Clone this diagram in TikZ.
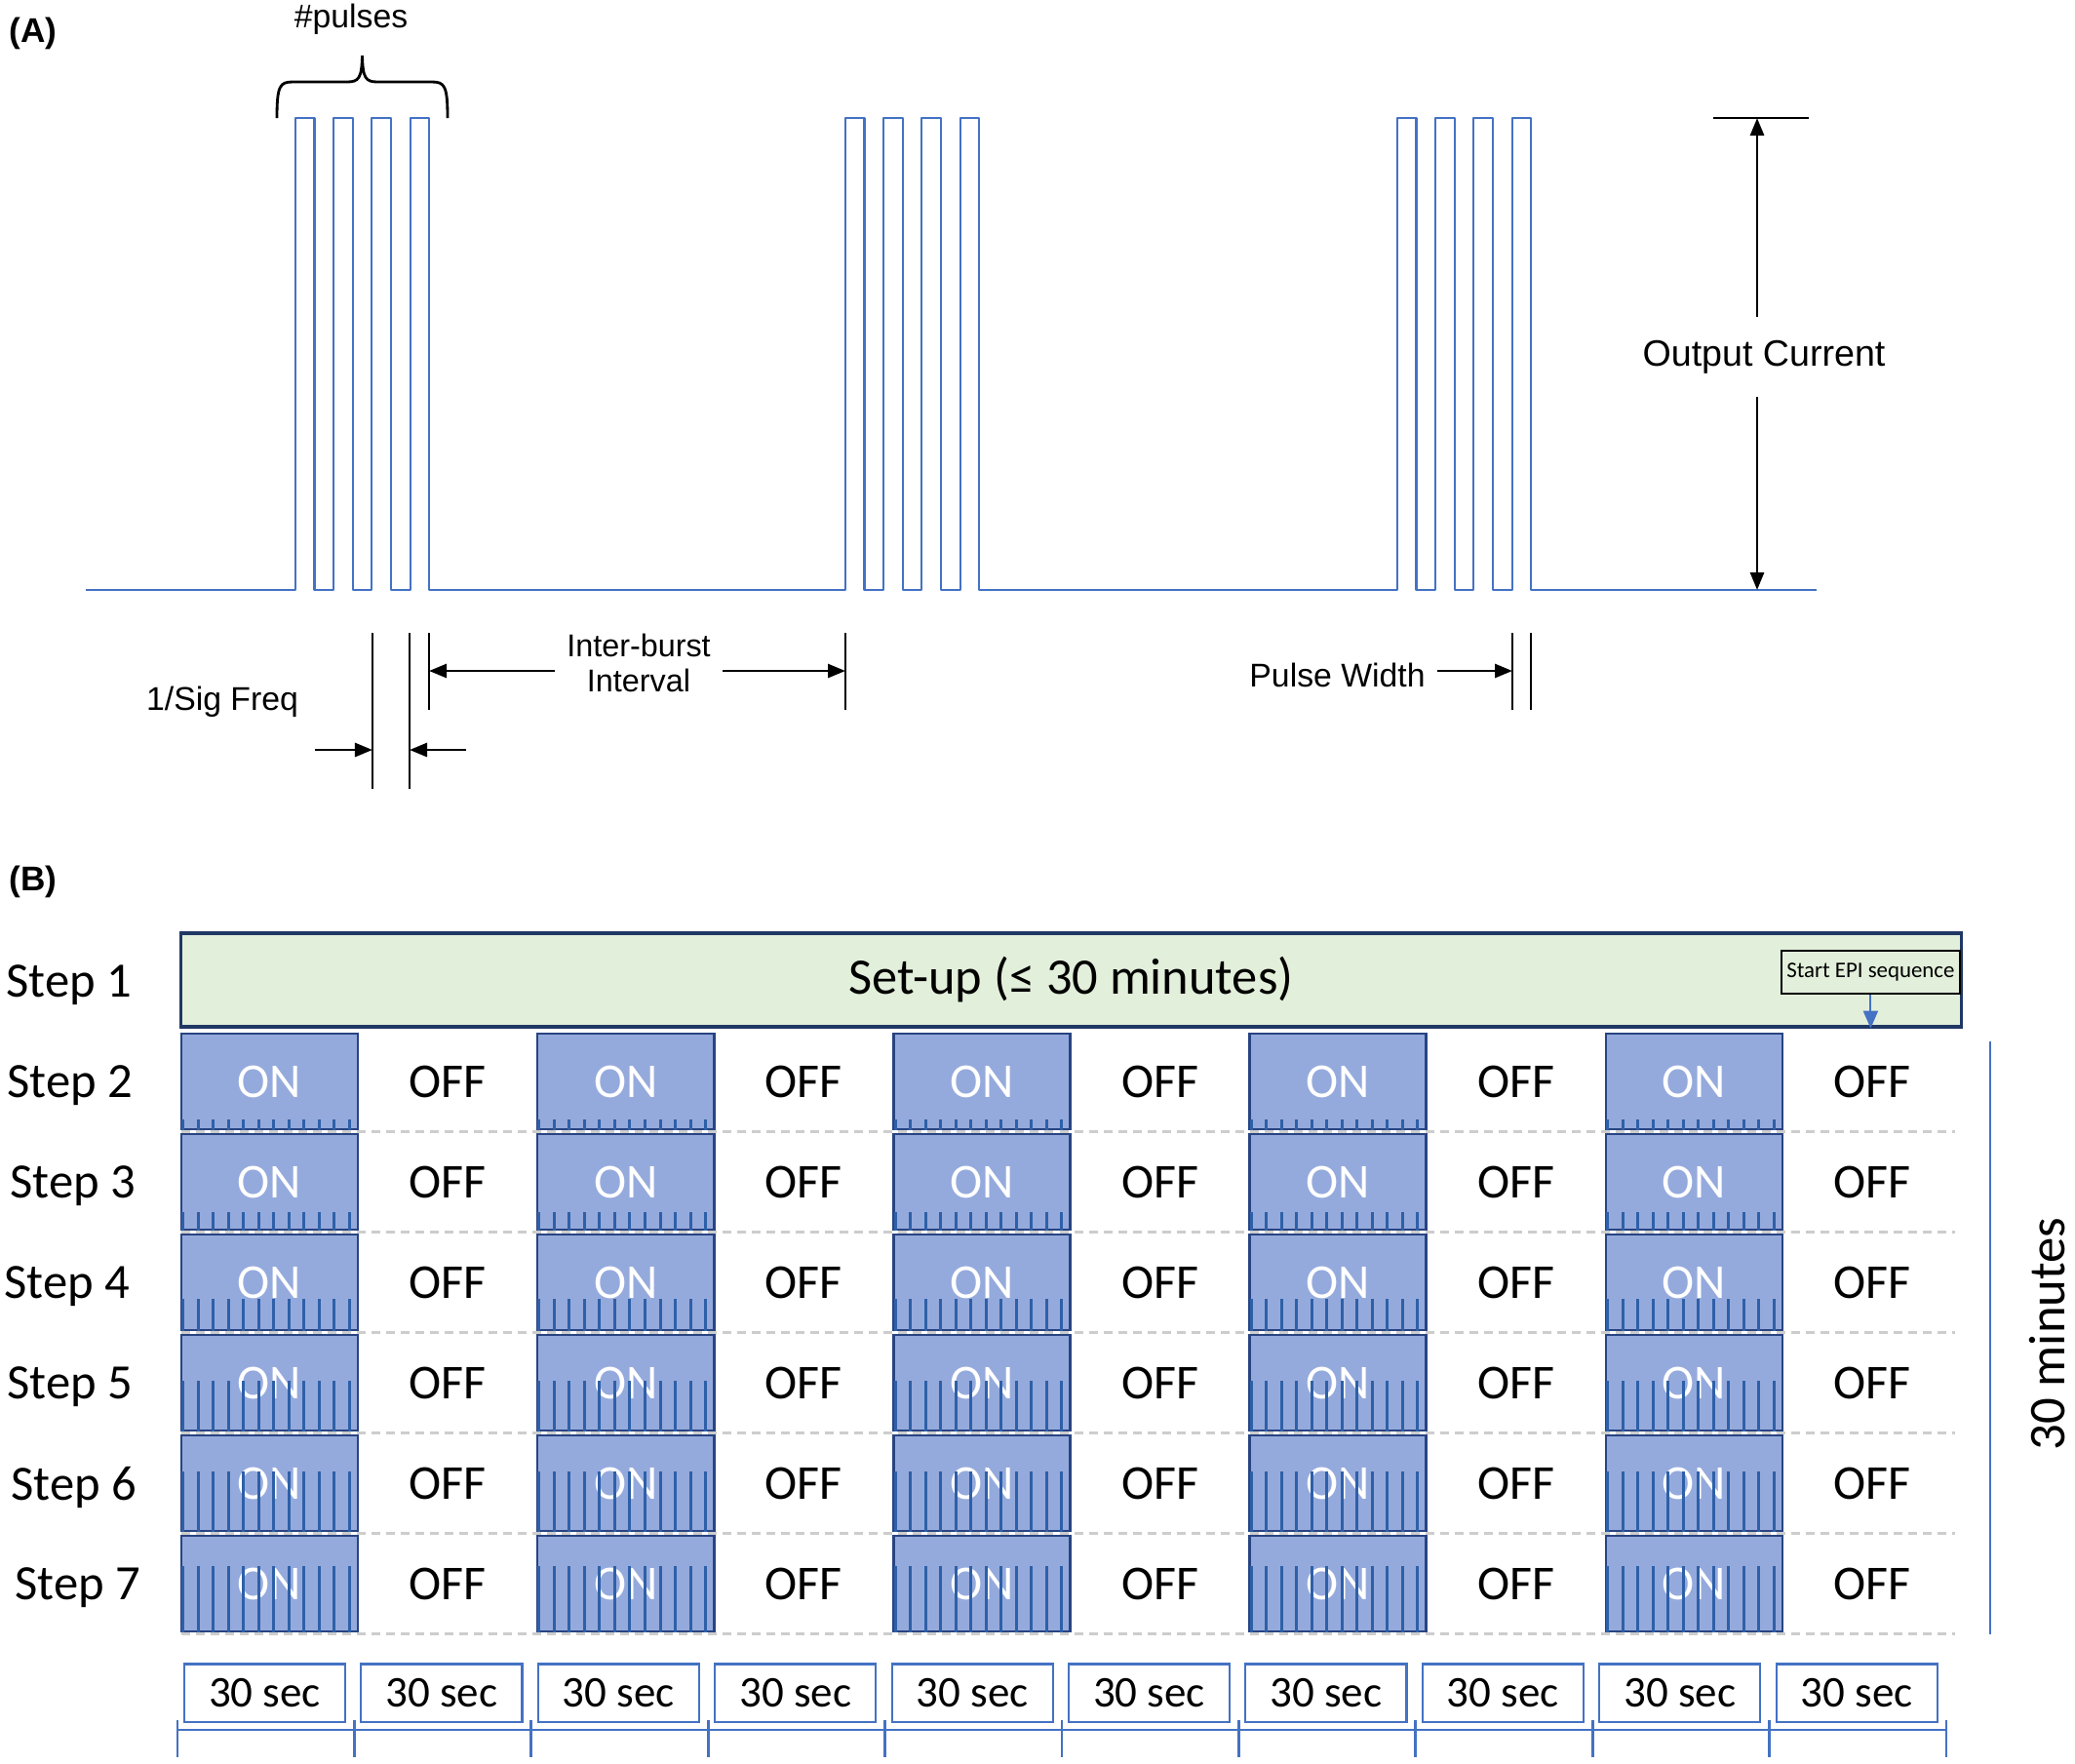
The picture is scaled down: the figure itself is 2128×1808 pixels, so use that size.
\documentclass[tikz,border=0pt]{standalone}
\usepackage{fontspec}
\setmainfont{Liberation Sans}
\newfontfamily\calibrifont{Carlito}
\usetikzlibrary{positioning, arrows.meta}

\definecolor{wblue}{RGB}{68,114,196}
\definecolor{navy}{RGB}{32,56,100}
\definecolor{setupfill}{RGB}{226,239,218}
\definecolor{onfill}{RGB}{149,170,220}
\definecolor{onedge}{RGB}{40,68,130}
\definecolor{tickblue}{RGB}{46,96,168}
\definecolor{sepgrey}{RGB}{205,205,205}

\begin{document}
\begin{tikzpicture}[x=0.01cm, y=-0.01cm, node distance=1.825cm, on grid,
  wave/.style={draw=wblue, line width=0.6pt, line join=round},
  dim/.style={line width=0.8pt},
  arr/.style={dim, -{Triangle[length=0.18cm, width=0.14cm]}},
  lbl/.style={font=\fontsize{9.6}{10.3}\selectfont},
  tag/.style={font=\fontsize{10}{12}\selectfont\bfseries},
  brace/.style={line width=0.8pt},
  setup/.style={draw=navy, fill=setupfill, line width=0.9pt, minimum width=18.25cm,
    minimum height=0.96cm, font=\calibrifont\fontsize{14.9}{16}\selectfont},
  epi/.style={draw, fill=setupfill, line width=0.6pt, minimum width=1.83cm,
    minimum height=0.44cm, inner sep=0pt, font=\calibrifont\fontsize{6.5}{7}\selectfont},
  bluearr/.style={draw=wblue, line width=0.6pt, -{Triangle[length=0.18cm, width=0.15cm]}},
  steplbl/.style={font=\calibrifont\fontsize{14.4}{16}\selectfont, text depth=0pt},
  onbox/.style={draw=onedge, fill=onfill, line width=0.7pt, minimum width=1.81cm,
    minimum height=0.98cm, text=white, font=\calibrifont\fontsize{14.2}{16}\selectfont},
  offtxt/.style={font=\calibrifont\fontsize{14.2}{16}\selectfont},
  pulsetick/.style={draw=tickblue, line width=0.85pt},
  rowsep/.style={draw=sepgrey, line width=0.6pt, dash pattern=on 0.09cm off 0.06cm},
  vline/.style={draw=wblue, line width=0.8pt},
  mins/.style={font=\calibrifont\fontsize{15}{17}\selectfont, inner sep=0pt},
  secbox/.style={draw=wblue, line width=0.6pt, minimum width=1.65cm,
    minimum height=0.59cm, font=\calibrifont\fontsize{12.8}{14}\selectfont},
  timeline/.style={draw=wblue, line width=0.8pt}]
  \useasboundingbox (0,0) rectangle (2128,1808);

  % (A) waveform
  \node[tag] (A) at (34,34) {(A)};
  \draw[wave] (88,605)
    foreach \s in {303,867,1433} {
      foreach \k in {0,...,3} {
        -- ({\s+39.2*\k},605) -- ({\s+39.2*\k},121)
        -- ({\s+39.2*\k+19.5},121) -- ({\s+39.2*\k+19.5},605)
      }
    } -- (1863,605);
  \node[lbl] (np) at (360,20) {\#pulses};
  \draw[brace] (284,121) .. controls (284,88) and (287,84) .. (300,84) -- (356,84)
    .. controls (368,84) and (371,80) .. (371.5,57)
    .. controls (372,80) and (375,84) .. (387,84) -- (443,84)
    .. controls (456,84) and (459,88) .. (459,121);

  \coordinate (oct) at (1802,121);
  \coordinate (ocb) at (1802,605);
  \node[lbl, font=\fontsize{10.7}{12}\selectfont, inner ysep=0.23cm] (oc) at (1809,366) {Output Current};
  \draw[dim] (1757,121) -- (1855,121);
  \draw[arr] (oc.north -| oct) -- (oct);
  \draw[arr] (oc.south -| ocb) -- (ocb);

  \draw[dim] (382,649) -- (382,809) (420,649) -- (420,809);
  \node[lbl] (sf) at (228,720) {1/Sig Freq};
  \coordinate (sfa) at (382,769);
  \coordinate (sfb) at (420,769);
  \coordinate (sf1) at (323,769);
  \coordinate (sf2) at (478,769);
  \draw[arr] (sf1) -- (sfa);
  \draw[arr] (sf2) -- (sfb);

  \draw[dim] (440,649) -- (440,728) (867,649) -- (867,728);
  \node[lbl, align=center, font=\fontsize{9.2}{10.3}\selectfont] (ib) at (655,680) {Inter-burst\\Interval};
  \coordinate (ibl) at (440,688);
  \coordinate (ibr) at (867,688);
  \draw[arr] (ib.west |- ibl) -- (ibl);
  \draw[arr] (ib.east |- ibr) -- (ibr);

  \draw[dim] (1551,649) -- (1551,728) (1570,649) -- (1570,728);
  \node[lbl, anchor=east] (pw) at (1474,692) {Pulse Width};
  \coordinate (pwa) at (1551,688);
  \draw[arr] (pw.east |- pwa) -- (pwa);

  % (B) protocol
  \node[tag] (B) at (34,904) {(B)};
  \node[setup] (s1) at (1098.5,1005) {Set-up (≤ 30 minutes)};
  \node[epi, anchor=north east] (epi) at (2011,974) {Start EPI sequence};
  \draw[bluearr] (epi.south) -- (epi.south |- s1.south);

  \foreach \n/\x/\y in {1/71/1006, 2/72/1109, 3/75/1212, 4/69/1315, 5/72/1418, 6/76/1521, 7/80/1624}
    \node[steplbl] (st\n) at (\x,\y) {Step \n};

  \foreach \r in {0,...,5}
    \draw[rowsep] (186,{1160.5+103*\r}) -- (2005,{1160.5+103*\r});

  \foreach \r/\h in {0/11, 1/19, 2/33, 3/52, 4/62, 5/68} {
    \node[onbox] (c\r0) at (276.5,{1109+103*\r}) {ON};
    \foreach \c [remember=\c as \p (initially 0)] in {1,...,9} {
      \ifodd\c
        \node[offtxt, right=of c\r\p] (c\r\c) {OFF};
      \else
        \node[onbox, right=of c\r\p] (c\r\c) {ON};
      \fi
    }
    \foreach \c in {0,2,...,8}
      \foreach \t in {0,...,11}
        \draw[pulsetick] ([xshift=0.03cm+\t*0.155cm]c\r\c.south west) -- ++(0,-\h);
  }

  \draw[vline] (2041,1068) -- (2041,1676);
  \node[mins, rotate=90] (m30) at (2100,1368) {30 minutes};

  \foreach \c in {0,...,9}
    \node[secbox] (t\c) at ({271.5+181.4*\c},1736) {30 sec};
  \draw[timeline] (182,1774) -- (1996,1774);
  \foreach \c in {0,...,10}
    \draw[timeline] ({182+181.4*\c},1764) -- ({182+181.4*\c},1802);
\end{tikzpicture}
\end{document}
